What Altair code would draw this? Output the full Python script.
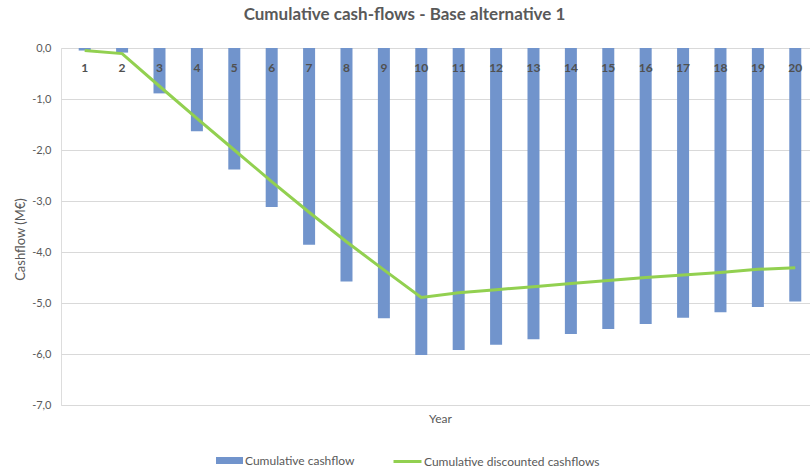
import altair as alt
import pandas as pd

years = list(range(1, 21))
cum_cashflow = [-0.05, -0.09, -0.89, -1.63, -2.38, -3.12, -3.86, -4.58, -5.30, -6.02,
                -5.92, -5.82, -5.71, -5.61, -5.51, -5.41, -5.29, -5.18, -5.08, -4.97]
cum_discounted = [-0.05, -0.11, -0.75, -1.38, -2.00, -2.62, -3.22, -3.80, -4.35, -4.89,
                  -4.80, -4.74, -4.68, -4.62, -4.56, -4.50, -4.45, -4.40, -4.34, -4.31]
bar_name = "Cumulative cashflow"
line_name = "Cumulative discounted cashflows"
y_ticks = [0, -1, -2, -3, -4, -5, -6, -7]

df = pd.DataFrame({"Year": years, "cum": cum_cashflow, "disc": cum_discounted})
df["bar_series"] = bar_name
df["line_series"] = line_name

FONT = "Lato"
GREY = "#595959"

x_scale = alt.Scale(domain=[0.5, 20.26], nice=False, zero=False)
y_scale = alt.Scale(domain=[-7, 0], nice=False)

x_axis = alt.Axis(title="Year", labels=False, ticks=False, domain=False, grid=False,
                  titleX=379, titleY=13, titleBaseline="middle", titleFontWeight="normal",
                  titleColor=GREY, titleFontSize=12, titleFont=FONT)
y_axis = alt.Axis(title="Cashflow (M€)", values=y_ticks, grid=True, gridColor="#d9d9d9",
                  ticks=False, domain=False, labelPadding=10, labelFontSize=11,
                  labelColor=GREY, labelFont=FONT,
                  labelExpr="replace(replace(format(datum.value, '.1f'), '.', ','), '\u2212', '-')",
                  titleX=-41, titleY=191, titleBaseline="middle", titleAlign="center",
                  titleFontSize=13, titleFontWeight="normal", titleColor=GREY, titleFont=FONT)

bars = alt.Chart(df).mark_bar(size=12).encode(
    x=alt.X("Year:Q", scale=x_scale, axis=x_axis),
    y=alt.Y("cum:Q", scale=y_scale, axis=y_axis),
    color=alt.Color("bar_series:N",
                    scale=alt.Scale(domain=[bar_name], range=["#7194CC"]),
                    legend=alt.Legend(title=None, orient="none", legendX=155, legendY=399,
                                      direction="horizontal",
                                      symbolType="M-1,-0.26L1,-0.26L1,0.26L-1,0.26Z",
                                      symbolSize=729, symbolStrokeWidth=0,
                                      labelOffset=2, labelFontSize=12, labelColor=GREY,
                                      labelFont=FONT, labelLimit=300)),
)

labels = alt.Chart(df).mark_text(dy=20, fontSize=12, fontWeight="bold", color="#505050",
                                 font=FONT).encode(
    x=alt.X("Year:Q", scale=x_scale, axis=x_axis),
    y=alt.YDatum(0, scale=y_scale, axis=y_axis),
    text=alt.Text("Year:N"),
)

line = alt.Chart(df).mark_line(strokeWidth=3).encode(
    x=alt.X("Year:Q", scale=x_scale, axis=x_axis),
    y=alt.Y("disc:Q", scale=y_scale, axis=y_axis),
    color=alt.Color("line_series:N",
                    scale=alt.Scale(domain=[line_name], range=["#92D050"]),
                    legend=alt.Legend(title=None, orient="none", legendX=331, legendY=398,
                                      direction="horizontal", symbolType="stroke",
                                      symbolSize=784, symbolStrokeWidth=3,
                                      labelOffset=1, labelFontSize=12, labelColor=GREY,
                                      labelFont=FONT, labelLimit=300)),
)

chart = alt.layer(bars, labels, line).resolve_scale(color="independent").properties(
    width=749,
    height=357,
    padding={"left": 61, "top": 48, "right": 0, "bottom": 65},
    autosize=alt.AutoSizeParams(type="none"),
    title=alt.TitleParams("Cumulative cash-flows - Base alternative 1", font=FONT,
                          fontSize=17, fontWeight="bold", color=GREY, anchor="middle",
                          dx=-31, dy=20, offset=25, baseline="alphabetic"),
).configure_view(stroke=None).configure(background="white")

chart.save("out.html", embed_options={"renderer": "svg", "actions": False})
